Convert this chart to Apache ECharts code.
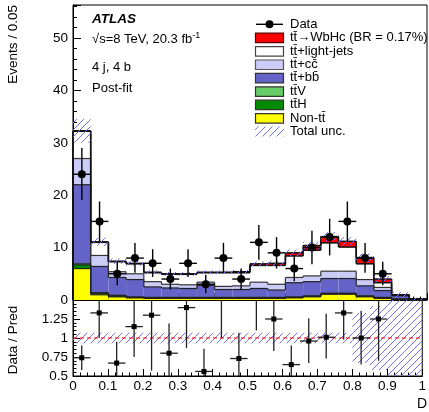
<!DOCTYPE html>
<html>
<head>
<meta charset="utf-8">
<script src="https://cdn.jsdelivr.net/npm/echarts@6/dist/echarts.min.js"></script>
<style>
html,body{margin:0;padding:0;background:#fff;}
#chart{width:429px;height:412px;}
</style>
</head>
<body>
<div id="chart"></div>
<script>
// Bin edges of the discriminant D (20 bins of width 0.05)
const binEdges = [0, 0.05, 0.1, 0.15, 0.2, 0.25, 0.3, 0.35, 0.4, 0.45, 0.5,
                  0.55, 0.6, 0.65, 0.7, 0.75, 0.8, 0.85, 0.9, 0.95, 1.0];

// Post-fit prediction per component (events per bin), stacked bottom -> top
const nonTtbar  = [6.0, 1.0, 0.6, 0.4, 0.3, 0.3, 0.3, 0.3, 0.3, 0.3, 0.3, 0.3, 0.4, 0.6, 1.1, 1.1, 0.6, 0.3, 0.1, 0.02];
const ttH       = [0.7, 0.3, 0.2, 0.1, 0.1, 0.1, 0.1, 0.1, 0.1, 0.1, 0.1, 0.1, 0.1, 0.1, 0.1, 0.1, 0.1, 0.1, 0.05, 0.0];
const ttV       = [0.2, 0.1, 0.1, 0.1, 0.1, 0.1, 0.1, 0.1, 0.1, 0.1, 0.1, 0.1, 0.1, 0.1, 0.1, 0.1, 0.1, 0.1, 0.05, 0.0];
const ttbb      = [15.1, 5.0, 3.4, 3.3, 2.0, 1.8, 1.7, 2.3, 1.5, 1.5, 1.7, 1.4, 2.7, 2.7, 2.8, 2.8, 1.9, 1.3, 0.6, 0.15];
const ttcc      = [5.0, 2.1, 1.1, 1.1, 1.0, 0.7, 0.7, 0.6, 0.6, 0.7, 1.2, 1.1, 1.0, 1.1, 1.4, 1.4, 1.2, 0.6, 0.1, 0.03];
const ttLight   = [5.2, 2.5, 1.9, 1.9, 1.7, 1.9, 2.0, 1.8, 2.6, 2.5, 3.2, 3.6, 4.1, 4.9, 5.4, 4.6, 3.0, 0.9, 0.05, 0.02];
const ttWbHc    = [0.1, 0.1, 0.1, 0.1, 0.1, 0.1, 0.1, 0.1, 0.1, 0.2, 0.3, 0.4, 0.6, 0.9, 1.2, 1.1, 1.2, 0.7, 0.05, 0.0];

// Relative total uncertainty of the prediction (half width)
const totalUncRel = [0.07, 0.07, 0.07, 0.07, 0.07, 0.07, 0.07, 0.07, 0.07, 0.07,
                     0.07, 0.07, 0.07, 0.07, 0.07, 0.07, 0.10, 0.15, 0.5, 1.0];
const ratioUncRel = [0.07, 0.07, 0.07, 0.07, 0.07, 0.07, 0.07, 0.07, 0.07, 0.07,
                     0.07, 0.07, 0.07, 0.07, 0.07, 0.07, 0.33, 0.42, 0.6, 0.6];

// Observed data with asymmetric error band edges
const dataCounts = [24, 15, 5, 8, 7, 4, 7, 3, 8, 4, 11, 9, 6, 10, 12, 15, 8, 5, null, null];
const dataLow    = [19.1, 11.1, 2.8, 5.2, 4.4, 2.0, 4.4, 1.3, 5.2, 2.0, 7.7, 6.0, 3.6, 6.8, 8.5, 11.1, 5.2, 2.8];
const dataHigh   = [29.0, 18.8, 7.3, 10.9, 9.7, 6.0, 9.7, 4.8, 10.9, 6.0, 14.3, 12.0, 8.4, 13.2, 15.5, 18.8, 10.9, 7.3];

// Data / prediction ratio and its error bar edges
const ratioVals = [0.74, 1.33, 0.67, 1.15, 1.30, 0.80, 1.40, 0.56, 1.57, 0.73, 1.59, 1.25, 0.65, 0.96, 1.01, 1.33, 1.00, 1.25];
const ratioLow  = [0.58, 1.00, 0.40, 0.75, 0.57, 0.40, 0.87, 0.40, 1.00, 0.40, 1.10, 0.83, 0.40, 0.67, 0.73, 0.98, 0.65, 0.70];
const ratioHigh = [0.90, 1.70, 0.95, 1.70, 1.70, 1.19, 1.70, 0.86, 2.00, 1.07, 2.00, 1.70, 0.90, 1.26, 1.32, 1.70, 1.36, 1.70];

const FONT = "'Liberation Sans', Arial, Helvetica, sans-serif";

// Stack layers, bottom -> top
const layers = [
  { name: 'Non-tt̄', values: nonTtbar, color: '#ffff00', border: '#222' },
  { name: 'tt̄H', values: ttH, color: '#008a00', border: '#222' },
  { name: 'tt̄V', values: ttV, color: '#66cc66', border: '#222' },
  { name: 'tt̄+bb̄', values: ttbb, color: '#6464c8', border: '#222' },
  { name: 'tt̄+cc̄', values: ttcc, color: '#ccccf8', border: '#333' },
  { name: 'tt̄+light-jets', values: ttLight, color: '#ffffff', border: '#111' },
  { name: 'tt̄→WbHc (BR = 0.17%)', values: ttWbHc, color: '#ff0000', border: '#111' }
];

// Cumulative levels
const nBins = binEdges.length - 1;
const cum = [];
let running = new Array(nBins).fill(0);
cum.push(running.slice());
layers.forEach(l => {
  running = running.map((v, i) => v + l.values[i]);
  cum.push(running.slice());
});
const total = cum[cum.length - 1];

// Diagonal hatch pattern
function makeHatch(color, step) {
  const c = document.createElement('canvas');
  c.width = step; c.height = step;
  const g = c.getContext('2d');
  g.strokeStyle = color;
  g.lineWidth = 1;
  g.beginPath();
  g.moveTo(0, step); g.lineTo(step, 0);
  g.moveTo(-1, 1); g.lineTo(1, -1);
  g.moveTo(step - 1, step + 1); g.lineTo(step + 1, step - 1);
  g.stroke();
  return c;
}
const hatchCanvas = makeHatch('#6e6eff', 7);
const hatchFill = { image: hatchCanvas, repeat: 'repeat' };

function rectBetween(api, x0, x1, lo, hi) {
  const a = api.coord([x0, hi]);
  const b = api.coord([x1, lo]);
  return { x: a[0], y: a[1], width: b[0] - a[0], height: b[1] - a[1] };
}

function clipRect(r, cs) {
  const x0 = Math.max(r.x, cs.x), y0 = Math.max(r.y, cs.y);
  const x1 = Math.min(r.x + r.width, cs.x + cs.width), y1 = Math.min(r.y + r.height, cs.y + cs.height);
  return { x: x0, y: y0, width: Math.max(0, x1 - x0), height: Math.max(0, y1 - y0) };
}

// Layer fills
const fillSeries = layers.map((l, k) => ({
  type: 'custom',
  name: l.name,
  xAxisIndex: 0, yAxisIndex: 0,
  z: 2,
  silent: true,
  data: binEdges.slice(0, -1).map((e, i) => [e, binEdges[i + 1], cum[k][i], cum[k + 1][i]]),
  encode: { x: [0, 1], y: [2, 3] },
  renderItem: (params, api) => {
    const lo = api.value(2), hi = api.value(3);
    if (hi - lo <= 0) return null;
    return { type: 'rect', shape: rectBetween(api, api.value(0), api.value(1), lo, hi),
             style: { fill: l.color } };
  }
}));

// Step outlines for every cumulative level
const outlineData = [];
for (let k = 1; k < cum.length; k++) {
  for (let i = 0; i < nBins; i++) {
    outlineData.push([binEdges[i], binEdges[i + 1], cum[k][i], i > 0 ? cum[k][i - 1] : 0, k]);
  }
}
const outlineSeries = {
  type: 'custom', xAxisIndex: 0, yAxisIndex: 0, z: 3, silent: true,
  data: outlineData,
  encode: { x: [0, 1], y: [2, 3] },
  renderItem: (params, api) => {
    const x0 = api.value(0), x1 = api.value(1), lvl = api.value(2), prev = api.value(3);
    const k = api.value(4);
    const col = layers[k - 1].border;
    const a = api.coord([x0, lvl]), b = api.coord([x1, lvl]), p = api.coord([x0, prev]);
    const w = (k >= 6) ? 1.5 : 1.2;
    return { type: 'group', children: [
      { type: 'line', shape: { x1: a[0], y1: a[1], x2: b[0], y2: b[1] }, style: { stroke: col, lineWidth: w } },
      { type: 'line', shape: { x1: a[0], y1: p[1], x2: a[0], y2: a[1] }, style: { stroke: col, lineWidth: w } }
    ] };
  }
};

// Total uncertainty hatched band (main panel)
const bandSeries = {
  type: 'custom', xAxisIndex: 0, yAxisIndex: 0, z: 4, silent: true,
  data: binEdges.slice(0, -1).map((e, i) => [e, binEdges[i + 1],
        total[i] * (1 - totalUncRel[i]), total[i] * (1 + totalUncRel[i])]),
  encode: { x: [0, 1], y: [2, 3] },
  renderItem: (params, api) => ({
    type: 'rect', shape: rectBetween(api, api.value(0), api.value(1), Math.max(0, api.value(2)), api.value(3)),
    style: { fill: hatchFill }
  })
};

// Data points with error bars
const dataPoints = [];
dataCounts.forEach((v, i) => {
  if (v === null) return;
  dataPoints.push([(binEdges[i] + binEdges[i + 1]) / 2, v, dataLow[i], dataHigh[i], binEdges[i], binEdges[i + 1]]);
});
const dataSeries = {
  type: 'custom', name: 'Data', xAxisIndex: 0, yAxisIndex: 0, z: 6, silent: true,
  data: dataPoints,
  encode: { x: 0, y: [1, 2, 3] },
  renderItem: (params, api) => {
    const c = api.coord([api.value(0), api.value(1)]);
    const lo = api.coord([api.value(0), api.value(2)]);
    const hi = api.coord([api.value(0), api.value(3)]);
    const l = api.coord([api.value(4), api.value(1)]);
    const r = api.coord([api.value(5), api.value(1)]);
    const st = { stroke: '#000', lineWidth: 1.4 };
    return { type: 'group', children: [
      { type: 'line', shape: { x1: c[0], y1: hi[1], x2: c[0], y2: lo[1] }, style: st },
      { type: 'line', shape: { x1: l[0], y1: c[1], x2: r[0], y2: c[1] }, style: st },
      { type: 'circle', shape: { cx: c[0], cy: c[1], r: 4 }, style: { fill: '#000' } }
    ] };
  }
};

// Ratio panel: uncertainty band
const ratioBandSeries = {
  type: 'custom', xAxisIndex: 1, yAxisIndex: 1, z: 2, silent: true,
  data: binEdges.slice(0, -1).map((e, i) => [e, binEdges[i + 1], 1 - ratioUncRel[i], 1 + ratioUncRel[i]]),
  encode: { x: [0, 1], y: [2, 3] },
  renderItem: (params, api) => ({
    type: 'rect',
    shape: clipRect(rectBetween(api, api.value(0), api.value(1), api.value(2), api.value(3)), params.coordSys),
    style: { fill: hatchFill }
  })
};

// Ratio panel: reference line at one
const ratioLine = {
  type: 'line', xAxisIndex: 1, yAxisIndex: 1, z: 3, silent: true,
  data: [[0, 1], [1, 1]], symbol: 'none',
  lineStyle: { color: '#ff0000', width: 1, type: [4, 3] }
};

// Ratio panel: data / prediction points
const ratioPoints = ratioVals.map((v, i) => [(binEdges[i] + binEdges[i + 1]) / 2, v, ratioLow[i], ratioHigh[i], binEdges[i], binEdges[i + 1]]);
const ratioSeries = {
  type: 'custom', xAxisIndex: 1, yAxisIndex: 1, z: 5, silent: true,
  data: ratioPoints,
  encode: { x: 0, y: 1 },
  renderItem: (params, api) => {
    const cs = params.coordSys;
    const c = api.coord([api.value(0), api.value(1)]);
    const lo = api.coord([api.value(0), api.value(2)]);
    const hi = api.coord([api.value(0), api.value(3)]);
    const l = api.coord([api.value(4), api.value(1)]);
    const r = api.coord([api.value(5), api.value(1)]);
    const top = Math.max(hi[1], cs.y), bot = Math.min(lo[1], cs.y + cs.height);
    const st = { stroke: '#222', lineWidth: 1.3 };
    const ch = [{ type: 'line', shape: { x1: c[0], y1: top, x2: c[0], y2: bot }, style: st }];
    if (c[1] >= cs.y && c[1] <= cs.y + cs.height) {
      ch.push({ type: 'line', shape: { x1: l[0], y1: c[1], x2: r[0], y2: c[1] }, style: st });
      ch.push({ type: 'rect', shape: { x: c[0] - 2.5, y: c[1] - 2.5, width: 5, height: 5 }, style: { fill: '#000' } });
    }
    return { type: 'group', children: ch };
  }
};

// Text / legend graphics
const legendX = 255, legendTextX = 290, legendTop = 24.3, legendStep = 13.4;
const legendRows = [
  { label: 'Data', kind: 'data' },
  { label: 'tt̄→WbHc (BR = 0.17%)', fill: '#ff0000', stroke: '#5a0000' },
  { label: 'tt̄+light-jets', fill: '#ffffff', stroke: '#444' },
  { label: 'tt̄+cc̄', fill: '#ccccf8', stroke: '#555' },
  { label: 'tt̄+bb̄', fill: '#6464c8', stroke: '#333' },
  { label: 'tt̄V', fill: '#66cc66', stroke: '#333' },
  { label: 'tt̄H', fill: '#008a00', stroke: '#333' },
  { label: 'Non-tt̄', fill: '#ffff00', stroke: '#333' },
  { label: 'Total unc.', kind: 'hatch' }
];
const graphics = [];
legendRows.forEach((row, i) => {
  const cy = legendTop + i * legendStep;
  if (row.kind === 'data') {
    graphics.push({ type: 'line', shape: { x1: legendX + 1, y1: cy, x2: legendX + 28, y2: cy }, style: { stroke: '#000', lineWidth: 1.4 } });
    graphics.push({ type: 'circle', shape: { cx: legendX + 14.5, cy: cy, r: 4 }, style: { fill: '#000' } });
  } else if (row.kind === 'hatch') {
    graphics.push({ type: 'rect', shape: { x: legendX, y: cy - 5, width: 29, height: 10 }, style: { fill: hatchFill } });
  } else {
    graphics.push({ type: 'rect', shape: { x: legendX + 0.5, y: cy - 4.5, width: 28, height: 9.5 }, style: { fill: row.fill, stroke: row.stroke, lineWidth: 1.2 } });
  }
  graphics.push({ type: 'text', x: legendTextX, y: cy, style: { text: row.label, font: '13px ' + FONT, fill: '#000', textVerticalAlign: 'middle' } });
});

graphics.push(
  { type: 'text', x: 92, y: 19.5, style: { text: 'ATLAS', font: 'italic bold 13.5px ' + FONT, fill: '#000', textVerticalAlign: 'middle' } },
  { type: 'text', x: 92, y: 39.5, style: {
      text: '√s=8 TeV, 20.3 fb{sup|-1}', font: '13px ' + FONT, fill: '#000', textVerticalAlign: 'middle',
      rich: { sup: { fontSize: 9, fontFamily: FONT, verticalAlign: 'top', padding: [0, 0, 8, 0] } } } },
  { type: 'text', x: 92, y: 67.5, style: { text: '4 j, 4 b', font: '13px ' + FONT, fill: '#000', textVerticalAlign: 'middle' } },
  { type: 'text', x: 92, y: 88.5, style: { text: 'Post-fit', font: '13px ' + FONT, fill: '#000', textVerticalAlign: 'middle' } },
  { type: 'text', x: 13, y: 5, rotation: Math.PI / 2, style: { text: 'Events / 0.05', font: '13.5px ' + FONT, fill: '#000', textAlign: 'right', textVerticalAlign: 'middle' } },
  { type: 'text', x: 13, y: 340, rotation: Math.PI / 2, style: { text: 'Data / Pred', font: '13.5px ' + FONT, fill: '#000', textAlign: 'center', textVerticalAlign: 'middle' } },
  { type: 'text', x: 417, y: 404, style: { text: 'D', font: '14px ' + FONT, fill: '#000', textVerticalAlign: 'middle' } }
);

const axisLineStyle = { show: true, lineStyle: { color: '#000', width: 1 } };
const tickStyle = (len) => ({ show: true, inside: true, length: len, lineStyle: { color: '#000', width: 1 } });
const minorStyle = (n, len) => ({ show: true, splitNumber: n, length: len, lineStyle: { color: '#000', width: 1 } });

const chart = echarts.init(document.getElementById('chart'), null, { renderer: 'canvas' });
chart.setOption({
  animation: false,
  backgroundColor: '#fff',
  textStyle: { fontFamily: FONT },
  grid: [
    { left: 73, right: 2, top: 5, height: 295, show: true, borderColor: '#000', borderWidth: 1, backgroundColor: 'transparent' },
    { left: 73, right: 2, top: 300, height: 76, show: true, borderColor: '#000', borderWidth: 1, backgroundColor: 'transparent' }
  ],
  xAxis: [
    { type: 'value', gridIndex: 0, min: 0, max: 1, interval: 0.1,
      axisLine: axisLineStyle, axisTick: tickStyle(7), minorTick: minorStyle(5, 3.5),
      axisLabel: { show: false }, splitLine: { show: false } },
    { type: 'value', gridIndex: 1, min: 0, max: 1, interval: 0.1,
      axisLine: axisLineStyle, axisTick: tickStyle(7), minorTick: minorStyle(5, 3.5),
      axisLabel: { show: true, margin: 3, fontSize: 13.5, color: '#000', fontFamily: FONT },
      splitLine: { show: false } }
  ],
  yAxis: [
    { type: 'value', gridIndex: 0, min: 0, max: 56.3, interval: 10,
      axisLine: axisLineStyle, axisTick: tickStyle(8), minorTick: minorStyle(5, 4),
      axisLabel: { margin: 5, fontSize: 13.5, color: '#000', fontFamily: FONT,
                   formatter: v => (v % 10 === 0 ? String(v) : '') },
      splitLine: { show: false } },
    { type: 'value', gridIndex: 1, min: 0.5, max: 1.5, interval: 0.25,
      axisLine: axisLineStyle, axisTick: tickStyle(7), minorTick: minorStyle(5, 3.5),
      axisLabel: { margin: 5, fontSize: 13.5, color: '#000', fontFamily: FONT, showMaxLabel: false },
      splitLine: { show: false } }
  ],
  graphic: graphics,
  series: [...fillSeries, outlineSeries, bandSeries, dataSeries, ratioBandSeries, ratioLine, ratioSeries]
});
</script>
</body>
</html>
